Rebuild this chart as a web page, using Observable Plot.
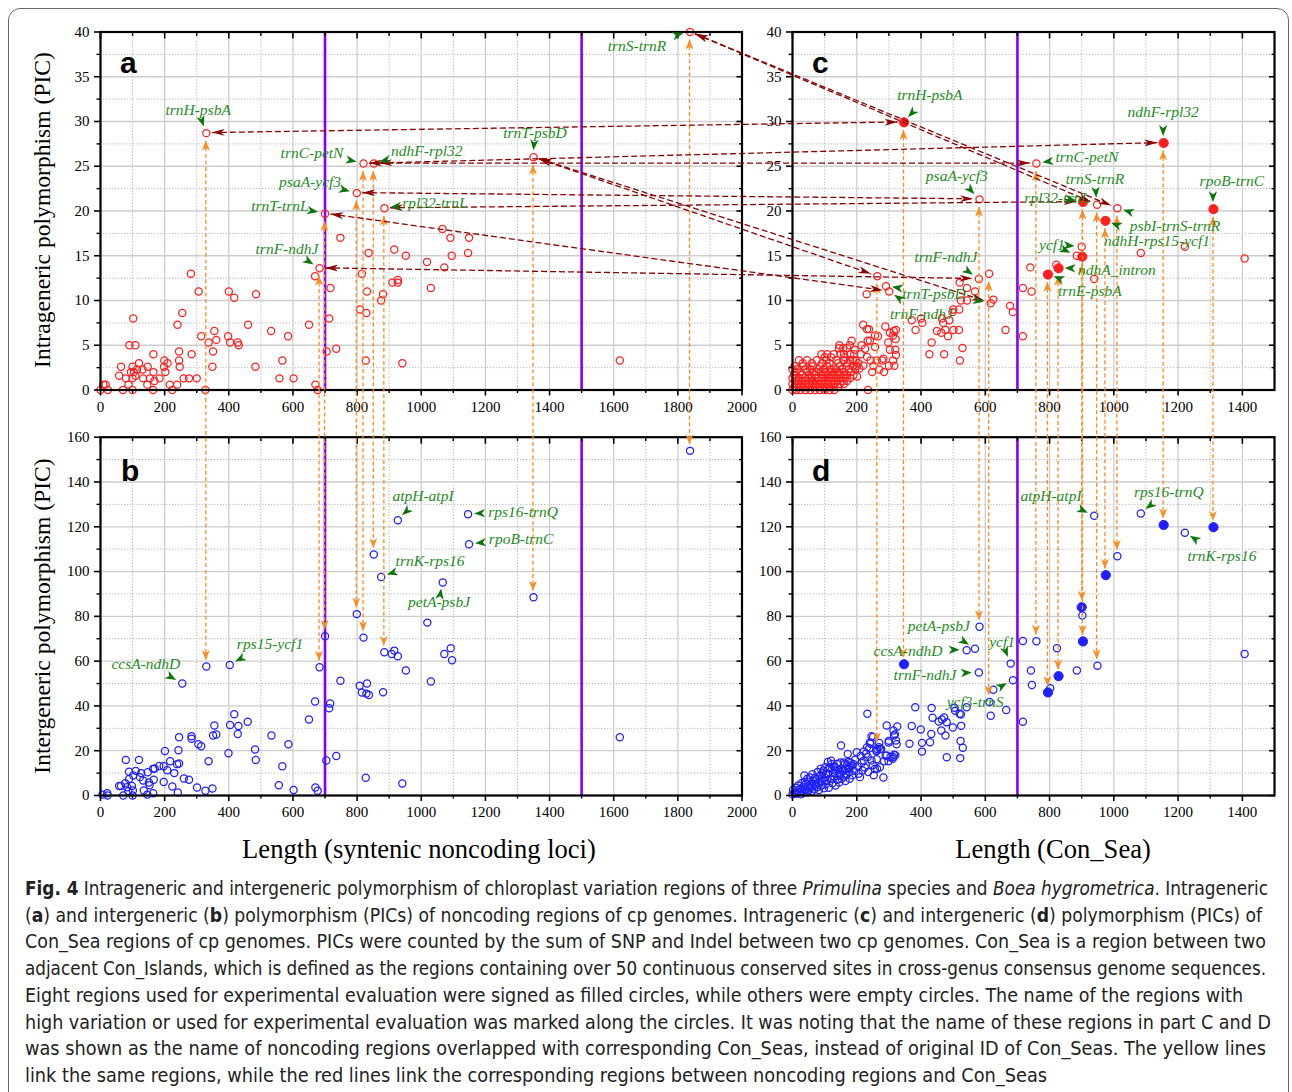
<!DOCTYPE html>
<html><head><meta charset="utf-8">
<script src="https://cdn.jsdelivr.net/npm/d3@7"></script>
<script src="https://cdn.jsdelivr.net/npm/@observablehq/plot@0.6"></script>
<style>
html,body{margin:0;padding:0;background:#fff;overflow:hidden;}
#fig{position:relative;width:1292px;height:1092px;overflow:hidden;background:#fff;}
#fig > svg{position:absolute;left:0;top:0;}
.border{position:absolute;left:8px;top:8px;width:1281px;height:1120px;border:1.3px solid #6a6a6a;border-radius:12px;box-sizing:border-box;}
.cap{position:absolute;left:25px;white-space:nowrap;font-family:"Liberation Sans Narrow","DejaVu Sans Condensed","Roboto Condensed","Liberation Sans",sans-serif;font-size:19px;color:#222;transform-origin:0 50%;line-height:26px;height:26px;}
</style></head>
<body><div id="fig"><div class="border"></div></div>
<script>
// ---------------- DATA ----------------
// Panel a: intrageneric PIC vs length, syntenic noncoding loci  [length, PIC]
const noncodingIntra = [[0,0],[9,0.6],[16,0.6],[23,0],[58,1.6],[64,2.6],[70,0],[79,1.3],[87,0.6],[90,5.0],[95,2.0],[100,2.6],[100,1.3],[100,0],[102,8.0],[104,2.0],[109,5.0],[109,1.6],[114,2.3],[120,3.0],[131,2.3],[133,1.3],[146,0.6],[147,2.6],[154,1.3],[164,0],[165,4.0],[165,2.0],[168,1.0],[184,1.3],[198,2.6],[199,3.3],[202,2.0],[209,3.0],[216,0.6],[224,0],[239,0.6],[240,7.3],[245,4.3],[245,3.3],[247,2.6],[255,8.6],[259,1.3],[276,1.3],[282,13.0],[284,4.0],[300,1.3],[306,11.0],[314,6.0],[327,0],[330,28.7],[337,5.3],[349,2.6],[351,4.3],[355,6.6],[361,5.6],[398,6.0],[400,11.0],[404,5.3],[417,10.3],[428,5.3],[431,5.0],[460,7.3],[483,2.6],[485,10.7],[532,6.6],[558,1.3],[567,3.3],[585,6.0],[602,1.3],[650,7.3],[669,12.7],[670,0.6],[677,0],[683,13.6],[700,19.7],[705,4.3],[713,8.0],[717,11.4],[735,4.6],[748,17.0],[799,22.0],[809,9.0],[815,13.0],[820,25.3],[827,3.3],[829,8.6],[831,11.0],[836,15.3],[852,25.3],[875,10.0],[881,10.7],[885,20.3],[910,12.0],[916,15.7],[927,12.3],[927,12.0],[941,3.0],[952,15.0],[1018,14.3],[1030,11.4],[1066,18.0],[1072,13.7],[1091,17.0],[1095,15.0],[1146,15.3],[1149,17.0],[1350,26.0],[1619,3.3],[1838,40.0]];

// Panel b: intergeneric PIC vs length, syntenic noncoding loci
const noncodingInter = [[6,0.4],[21,1.0],[22,0],[58,4.2],[64,4.2],[71,0],[77,5.5],[79,15.9],[83,3.7],[87,1.9],[89,10.6],[89,7.4],[98,4.2],[100,0],[101,2.2],[102,8.9],[110,11.0],[120,15.9],[123,8.2],[127,10.0],[133,6.7],[135,2.2],[146,0.4],[147,10.4],[151,5.8],[153,4.6],[164,11.9],[164,1.0],[166,7.0],[169,12.1],[183,13.2],[197,13.1],[197,6.0],[201,19.9],[208,11.3],[217,15.3],[224,4.0],[230,10.0],[239,14.0],[241,1.3],[243,20.2],[245,14.3],[245,26.0],[255,50.0],[260,7.6],[276,7.0],[284,26.5],[284,25.3],[301,3.6],[305,22.9],[314,22.0],[327,2.1],[330,57.6],[337,15.3],[349,3.1],[351,26.8],[355,31.3],[361,27.2],[399,18.9],[403,58.3],[404,31.5],[417,36.3],[428,27.5],[430,31.0],[459,32.9],[482,20.5],[484,15.9],[533,26.8],[556,4.6],[567,13.1],[586,22.9],[602,2.5],[650,33.9],[669,42.0],[670,3.6],[677,2.1],[683,57.3],[700,71.1],[704,15.6],[713,39.0],[716,41.1],[735,17.6],[748,51.2],[799,81.0],[808,49.0],[815,46.0],[820,70.5],[827,7.9],[829,45.5],[831,50.0],[837,44.9],[852,107.6],[875,97.6],[881,46.1],[885,64.0],[908,63.2],[916,64.7],[927,62.2],[927,122.9],[941,5.4],[952,55.8],[1019,77.2],[1030,50.9],[1067,95.1],[1072,63.2],[1092,65.8],[1096,60.4],[1146,125.6],[1149,112.2],[1350,88.5],[1619,26.0],[1838,153.9]];

// Panel c: intrageneric PIC vs Con_Sea length (dense low-length cloud listed per PIC row)
const conSeaIntraRows = [
  [0,[0,12,25,40,55,70,85,100,115,130]],
  [0.33,[6,20,34,48,62,72,86,100,115,128,142]],
  [0.67,[0,14,26,40,52,64,76,90,104,118,132,148,160]],
  [1.0,[8,18,30,42,55,68,82,96,110,125,140,156,170]],
  [1.33,[0,12,22,38,50,60,78,92,105,120,135,150,165,180]],
  [1.67,[5,30,52,70,95,110,125,140,158,170,190]],
  [2.0,[10,25,45,62,74,88,102,118,130,145,160,182]],
  [2.33,[0,15,40,55,80,96,120,135,155,175,195]],
  [2.67,[7,33,64,85,108,148,168,189,200]],
  [3.0,[32,60,92,115,142,172]],
  [3.33,[20,45,75,106,137,160,179,188]],
  [3.67,[100,120,163]],
  [4.0,[90,108,128,150,160,180,192]],
  [4.67,[145,158,170]],
  [5.0,[146,178]]
];
const conSeaIntraOpen = [[184,5.5],[194,4.5],[196,3.3],[201,1.5],[205,3.0],[208,2.4],[212,4.0],[215,5.0],[220,7.3],[220,2.7],[226,4.6],[231,10.7],[232,3.7],[232,6.8],[234,5.5],[235,0],[238,6.8],[241,5.5],[243,3.3],[248,2.0],[252,2.7],[257,6.1],[257,4.8],[262,3.3],[264,12.7],[266,6.0],[270,2.3],[279,3.3],[283,3.5],[285,2.0],[289,7.1],[291,11.6],[298,5.3],[300,2.7],[301,11.0],[303,4.5],[303,6.4],[313,3.3],[313,6.1],[315,6.6],[317,2.7],[320,4.5],[321,5.7],[322,3.9],[322,6.7],[371,7.8],[383,6.7],[400,8.0],[404,7.5],[426,4.0],[433,5.3],[449,6.6],[463,6.4],[465,8.0],[469,7.5],[472,4.0],[476,6.7],[484,6.0],[488,7.8],[498,8.7],[500,9.0],[501,6.7],[518,6.7],[519,9.0],[520,12.0],[521,3.3],[524,10.0],[529,4.7],[543,11.4],[543,10.0],[568,11.0],[580,12.4],[582,21.3],[612,13.0],[617,9.7],[625,10.1],[663,6.7],[677,9.4],[686,8.7],[717,6.0],[717,11.4],[740,13.7],[744,11.0],[759,25.3],[821,14.0],[885,15.0],[900,16.0],[939,12.4],[948,20.7],[1011,20.3],[1084,15.3],[1221,16.0],[1407,14.7]];
const conSeaIntraFilled = [[347,29.9],[795,12.9],[828,13.6],[902,14.9],[904,21.0],[974,18.9],[1155,27.6],[1310,20.2]];

// Panel d: intergeneric PIC vs Con_Sea length
const conSeaInterOpen = [[0,0.5],[2,2.5],[6,1.2],[10,3.5],[12,0.8],[15,2.2],[18,4.5],[20,1.5],[24,3.0],[26,0.5],[28,5.5],[30,2.0],[33,3.7],[35,1.2],[37,8.9],[38,6.0],[40,2.8],[42,5.2],[45,1.5],[46,7.5],[48,4.0],[50,2.2],[52,6.2],[54,8.0],[56,3.2],[59,4.0],[60,1.8],[62,9.5],[64,6.5],[66,5.2],[68,2.8],[70,7.8],[72,4.5],[75,7.4],[77,3.7],[78,10.5],[80,5.8],[82,2.5],[84,8.5],[87,8.9],[88,12.0],[90,4.5],[92,6.5],[94,10.2],[96,11.2],[98,3.2],[100,8.0],[101,6.7],[102,12.6],[104,5.0],[106,9.5],[108,6.7],[110,15.0],[111,9.7],[113,3.5],[115,12.5],[116,11.9],[118,7.5],[120,15.5],[122,14.1],[122,7.4],[124,5.5],[126,10.0],[128,13.0],[130,8.5],[132,12.6],[134,4.5],[136,10.8],[139,14.1],[140,7.0],[142,11.5],[145,5.8],[146,9.0],[148,9.7],[149,14.7],[150,12.0],[151,22.3],[153,7.5],[155,11.0],[158,10.9],[160,14.8],[161,8.5],[163,14.1],[165,6.5],[166,11.8],[168,9.4],[170,13.5],[172,18.5],[174,15.0],[175,11.9],[177,10.4],[178,7.5],[179,12.6],[181,14.5],[184,13.4],[186,9.0],[189,14.1],[192,11.0],[195,16.0],[200,19.3],[203,13.0],[206,9.7],[210,8.2],[212,17.6],[215,14.5],[218,11.2],[222,19.7],[222,15.6],[225,12.5],[229,18.6],[232,21.6],[233,36.5],[234,17.2],[236,10.5],[239,21.1],[241,23.7],[243,23.1],[246,15.6],[246,26.5],[250,13.5],[251,26.1],[253,9.0],[256,11.8],[261,19.8],[262,16.2],[262,20.1],[263,11.9],[264,20.8],[269,21.6],[270,23.4],[272,12.6],[273,20.8],[276,20.8],[283,8.0],[285,15.3],[290,17.8],[293,31.3],[293,17.9],[299,23.7],[299,15.3],[300,24.4],[305,17.2],[312,16.4],[313,17.2],[314,29.0],[316,26.8],[316,18.2],[319,27.3],[320,18.0],[322,24.6],[324,22.9],[326,30.8],[364,23.1],[371,31.0],[382,39.4],[399,29.5],[403,23.5],[403,19.6],[428,23.8],[432,27.5],[433,39.1],[436,34.7],[455,33.0],[463,29.0],[465,33.9],[472,34.8],[476,26.8],[480,32.7],[480,17.1],[499,30.4],[504,39.2],[506,37.8],[520,36.5],[522,16.7],[523,24.3],[524,36.2],[525,31.1],[530,21.3],[542,39.4],[542,64.9],[568,65.5],[580,54.9],[582,75.4],[613,41.8],[617,35.6],[625,47.2],[665,38.2],[679,58.9],[686,51.5],[717,32.9],[717,69.0],[742,55.8],[745,49.3],[759,68.9],[802,47.9],[823,65.8],[885,55.8],[902,80.4],[939,124.9],[949,57.9],[1011,106.8],[1084,125.9],[1221,117.3],[1407,63.2]];
const conSeaInterFilled = [[347,58.6],[795,46.0],[828,53.3],[900,84.1],[904,68.8],[975,98.4],[1155,120.8],[1310,119.8]];

// Links: same region a<->b and c<->d : [length, PIC upper panel, PIC lower panel]
const sameRegionAB = [[330,28.7,57.6],[683,13.6,57.3],[700,19.7,71.1],[799,22.0,81.0],[820,25.3,70.5],[852,25.3,107.6],[885,20.3,64.0],[1350,26.0,88.5],[1838,40.0,153.9]];
const sameRegionCD = [[264,12.7,20.8],[347,29.9,58.6],[582,21.3,75.4],[612,13.0,41.8],[759,25.3,68.9],[795,12.9,46.0],[828,13.6,53.3],[902,14.9,84.1],[904,21.0,68.8],[948,20.7,57.9],[974,18.9,98.4],[1011,20.3,106.8],[1155,27.6,120.8],[1310,20.2,119.8]];
// Links noncoding (a) <-> Con_Sea (c): [[len a, PIC a],[len c, PIC c]]
const correspondAC = [[[330,28.7],[347,29.9]],[[1838,40.0],[948,20.7]],[[1838,40.0],[1011,20.3]],[[820,25.3],[759,25.3]],[[852,25.3],[1155,27.6]],[[1350,26.0],[264,12.7]],[[1350,26.0],[617,9.7]],[[799,22.0],[582,21.3]],[[885,20.3],[904,21.0]],[[700,19.7],[301,11.0]],[[683,13.6],[580,12.4]]];

// Region names and the points they mark
const namesA = [["trnH-psbA",[[330,28.7]]],["trnC-petN",[[820,25.3]]],["ndhF-rpl32",[[852,25.3]]],["psaA-ycf3",[[799,22.0]]],["rpl32-trnL",[[885,20.3]]],["trnT-trnL",[[700,19.7]]],["trnF-ndhJ",[[683,13.6]]],["trnT-psbD",[[1350,26.0]]],["trnS-trnR",[[1838,40.0]]]];
const namesB = [["ccsA-ndhD",[[255,50.0]]],["rps15-ycf1",[[403,58.3]]],["atpH-atpI",[[927,122.9]]],["rps16-trnQ",[[1146,125.6]]],["rpoB-trnC",[[1149,112.2]]],["trnK-rps16",[[875,97.6]]],["petA-psbJ",[[1067,95.1]]]];
const namesC = [["trnH-psbA",[[347,29.9]]],["ndhF-rpl32",[[1155,27.6]]],["trnC-petN",[[759,25.3]]],["psaA-ycf3",[[582,21.3]]],["rpl32-trnL",[[904,21.0]]],["trnS-trnR",[[948,20.7]]],["rpoB-trnC",[[1310,20.2]]],["psbI-trnS-trnR",[[1011,20.3]]],["ndhH-rps15-ycf1",[[974,18.9]]],["ycf1",[[885,15.0],[900,16.0]]],["ndhA_intron",[[828,13.6]]],["trnE-psbA",[[795,12.9]]],["trnF-ndhJ",[[580,12.4]]],["trnT-psbD",[[291,11.6],[617,9.7]]],["trnF-ndhJ ",[[301,11.0]]]];
const namesD = [["atpH-atpI",[[939,124.9]]],["rps16-trnQ",[[1084,125.9]]],["trnK-rps16",[[1221,117.3]]],["petA-psbJ",[[568,65.5]]],["ccsA-ndhD",[[542,64.9]]],["ycf1",[[679,58.9]]],["trnF-ndhJ",[[580,54.9]]],["ycf3-trnS",[[686,51.5]]]];

// Tick values
const ticksLenNoncoding = [0,200,400,600,800,1000,1200,1400,1600,1800,2000];
const minorLenNoncoding = [100,300,500,700,900,1100,1300,1500,1700,1900];
const ticksLenConSea = [0,200,400,600,800,1000,1200,1400];
const minorLenConSea = [100,300,500,700,900,1100,1300];
const ticksIntra = [0,5,10,15,20,25,30,35,40];
const minorIntra = [2.5,7.5,12.5,17.5,22.5,27.5,32.5,37.5];
const ticksInter = [0,20,40,60,80,100,120,140,160];
const minorInter = [10,30,50,70,90,110,130,150];
const cutsNoncoding = [700,1500];
const cutsConSea = [700];

// ---------------- LAYOUT / STYLE ----------------
const W = 1292, H = 870;
const RED = "#ff1f1f", BLUE = "#1f1fff", PURPLE = "#8000ff";
const ORANGE = "#ff8a1e", DARKRED = "#8b0000", GREEN = "#1f8c1f", GREEN2 = "#0c760c";
const SERIF = "'Liberation Serif','Times New Roman',serif";
const fig = document.getElementById("fig");

function panel(o) {
  const xy = {x: d => d[0], y: d => d[1]};
  const blank = () => "";
  const plot = Plot.plot({
    width: W, height: H,
    marginLeft: o.left, marginRight: W - o.right, marginTop: o.top, marginBottom: H - o.bottom,
    style: {background: "transparent", overflow: "visible", fontFamily: SERIF, fontSize: "15px", color: "#000"},
    x: {domain: o.xDomain}, y: {domain: o.yDomain},
    marks: [
      Plot.gridX(o.xMinor, {stroke: "#b8b8b8", strokeOpacity: 1, strokeDasharray: "1.3,1.7"}),
      Plot.gridY(o.yMinor, {stroke: "#b8b8b8", strokeOpacity: 1, strokeDasharray: "1.3,1.7"}),
      Plot.gridX(o.xMajor, {stroke: "#cdcdcd", strokeOpacity: 1, strokeWidth: 1.3}),
      Plot.gridY(o.yMajor, {stroke: "#cdcdcd", strokeOpacity: 1, strokeWidth: 1.3}),
      Plot.ruleX(o.cuts, {stroke: PURPLE, strokeWidth: 2.6}),
      Plot.dot(o.open, {...xy, r: 3.6, stroke: o.color, strokeWidth: 1.25, fill: "none"}),
      Plot.dot(o.filled, {...xy, r: 4.6, fill: o.color, stroke: o.color, strokeWidth: 1}),
      Plot.frame({stroke: "#000", strokeWidth: 2.2}),
      Plot.axisX(o.xMajor, {anchor: "bottom", tickSize: 6, tickPadding: 5, strokeWidth: 1.6, tickFormat: d => String(d), fontSize: 15, label: null}),
      Plot.axisX(o.xMinor, {anchor: "bottom", tickSize: 3.5, strokeWidth: 1.4, tickFormat: blank, label: null}),
      Plot.axisX(o.xMajor, {anchor: "top", tickSize: 6, dy: 6, strokeWidth: 1.6, tickFormat: blank, label: null}),
      Plot.axisX(o.xMinor, {anchor: "top", tickSize: 3.5, dy: 3.5, strokeWidth: 1.4, tickFormat: blank, label: null}),
      Plot.axisY(o.yMajor, {anchor: "left", tickSize: 6, tickPadding: 5, strokeWidth: 1.6, tickFormat: d => String(d), fontSize: 15, label: null}),
      Plot.axisY(o.yMinor, {anchor: "left", tickSize: 3.5, strokeWidth: 1.4, tickFormat: blank, label: null}),
      Plot.axisY(o.yMajor, {anchor: "right", tickSize: 6, dx: -6, strokeWidth: 1.6, tickFormat: blank, label: null}),
      Plot.axisY(o.yMinor, {anchor: "right", tickSize: 3.5, dx: -3.5, strokeWidth: 1.4, tickFormat: blank, label: null})
    ]
  });
  fig.appendChild(plot);
  return plot;
}

const cloudC = conSeaIntraRows.flatMap(([y, xs]) => xs.map(x => [x, y]));

const pa = panel({left: 100, right: 741.5, top: 31.5, bottom: 389.5, xDomain: [0, 2000], yDomain: [0, 40],
  xMajor: ticksLenNoncoding, xMinor: minorLenNoncoding, yMajor: ticksIntra, yMinor: minorIntra,
  cuts: cutsNoncoding, open: noncodingIntra, filled: [], color: RED});
const pb = panel({left: 100, right: 741.5, top: 436.7, bottom: 795, xDomain: [0, 2000], yDomain: [0, 160],
  xMajor: ticksLenNoncoding, xMinor: minorLenNoncoding, yMajor: ticksInter, yMinor: minorInter,
  cuts: cutsNoncoding, open: noncodingInter, filled: [], color: BLUE});
const pc = panel({left: 792, right: 1274, top: 31.5, bottom: 389.5, xDomain: [0, 1500], yDomain: [0, 40],
  xMajor: ticksLenConSea, xMinor: minorLenConSea, yMajor: ticksIntra, yMinor: minorIntra,
  cuts: cutsConSea, open: cloudC.concat(conSeaIntraOpen), filled: conSeaIntraFilled, color: RED});
const pd = panel({left: 792, right: 1274, top: 436.7, bottom: 795, xDomain: [0, 1500], yDomain: [0, 160],
  xMajor: ticksLenConSea, xMinor: minorLenConSea, yMajor: ticksInter, yMinor: minorInter,
  cuts: cutsConSea, open: conSeaInterOpen, filled: conSeaInterFilled, color: BLUE});

// ---------------- OVERLAY (cross-panel links, names, titles) ----------------
const pos = (p, x, y) => [p.scale("x").apply(x), p.scale("y").apply(y)];
const svg = d3.select(fig).append("svg").attr("width", W).attr("height", H).style("overflow", "visible");
const defs = svg.append("defs");
function marker(id, color, len, wid) {
  defs.append("marker").attr("id", id).attr("viewBox", `0 0 ${len} ${wid}`)
    .attr("refX", len).attr("refY", wid / 2).attr("markerWidth", len).attr("markerHeight", wid)
    .attr("markerUnits", "userSpaceOnUse").attr("orient", "auto-start-reverse")
    .append("path").attr("d", `M0,0L${len},${wid / 2}L0,${wid}L${len * 0.3},${wid / 2}Z`).attr("fill", color);
}
marker("mo", ORANGE, 10, 8);
marker("mr", DARKRED, 13, 7);

function link(p1, p2, g1, g2, color, mk, dash) {
  const dx = p2[0] - p1[0], dy = p2[1] - p1[1], L = Math.hypot(dx, dy), ux = dx / L, uy = dy / L;
  svg.append("line")
    .attr("x1", p1[0] + ux * g1).attr("y1", p1[1] + uy * g1)
    .attr("x2", p2[0] - ux * g2).attr("y2", p2[1] - uy * g2)
    .attr("stroke", color).attr("stroke-width", 1.3).attr("stroke-dasharray", dash)
    .attr("marker-start", `url(#${mk})`).attr("marker-end", `url(#${mk})`);
}
for (const [x, y1, y2] of sameRegionAB) link(pos(pa, x, y1), pos(pb, x, y2), 8, 6, ORANGE, "mo", "4,2.6");
for (const [x, y1, y2] of sameRegionCD) link(pos(pc, x, y1), pos(pd, x, y2), 8, 6, ORANGE, "mo", "4,2.6");
for (const [a, c] of correspondAC) link(pos(pa, a[0], a[1]), pos(pc, c[0], c[1]), 6, 6, DARKRED, "mr", "6,3");

// label placement (data units of each panel) — layout only
const placeA = {"trnH-psbA":[306,31.3],"trnC-petN":[661,26.5],"ndhF-rpl32":[1019,26.7],"psaA-ycf3":[655,23.2],"rpl32-trnL":[1044,20.9],"trnT-trnL":[561,20.6],"trnF-ndhJ":[583,15.8],"trnT-psbD":[1356,28.7],"trnS-trnR":[1674,38.4]};
const placeB = {"ccsA-ndhD":[143,58.9],"rps15-ycf1":[530,67.4],"atpH-atpI":[1007,133.5],"rps16-trnQ":[1319,126.4],"rpoB-trnC":[1313,114.3],"trnK-rps16":[1029,104.5],"petA-psbJ":[1057,86.2]};
const placeC = {"trnH-psbA":[429,33.0],"ndhF-rpl32":[1155,31.0],"trnC-petN":[918,26.0],"psaA-ycf3":[513,23.9],"rpl32-trnL":[825,21.5],"trnS-trnR":[943,23.6],"rpoB-trnC":[1369,23.3,1310,23.6],"psbI-trnS-trnR":[1192,18.3],"ndhH-rps15-ycf1":[1136,16.6],"ycf1":[809,16.2],"ndhA_intron":[1011,13.4],"trnE-psbA":[927,11.1],"trnF-ndhJ":[479,14.9],"trnT-psbD":[442,10.7],"trnF-ndhJ ":[403,8.5]};
const placeD = {"atpH-atpI":[806,133.5],"rps16-trnQ":[1173,135.7],"trnK-rps16":[1338,106.7],"petA-psbJ":[457,75.5],"ccsA-ndhD":[361,64.7],"ycf1":[654,68.3],"trnF-ndhJ":[414,53.6],"ycf3-trnS":[570,41.5]};

function names(p, list, place) {
  for (const [name, targets] of list) {
    const pl = place[name];
    const [tx, ty] = pos(p, pl[0], pl[1]);
    svg.append("text").attr("x", tx).attr("y", ty).attr("text-anchor", "middle").attr("dy", "0.35em")
      .attr("font-family", SERIF).attr("font-style", "italic").attr("font-size", 15.5).attr("fill", GREEN).text(name.trim());
    const [fx, fy] = pl.length > 2 ? pos(p, pl[2], pl[3]) : [tx, ty];
    for (const [x, y] of targets) {
      const [px, py] = pos(p, x, y);
      const dx = px - fx, dy = py - fy, L = Math.hypot(dx, dy), ux = dx / L, uy = dy / L, nx = -uy, ny = ux;
      const tipx = px - ux * 6.5, tipy = py - uy * 6.5, len = 11, hw = 4.2;
      const bx = tipx - ux * len, by = tipy - uy * len, mx = tipx - ux * len * 0.72, my = tipy - uy * len * 0.72;
      svg.append("path").attr("fill", GREEN2)
        .attr("d", `M${tipx},${tipy}L${bx + nx * hw},${by + ny * hw}L${mx},${my}L${bx - nx * hw},${by - ny * hw}Z`);
    }
  }
}
names(pa, namesA, placeA);
names(pb, namesB, placeB);
names(pc, namesC, placeC);
names(pd, namesD, placeD);

// panel letters
for (const [t, x, y] of [["a", 120, 73], ["b", 121, 481], ["c", 812, 73], ["d", 812, 481]])
  svg.append("text").attr("x", x).attr("y", y).attr("font-family", "'Liberation Sans',Arial,sans-serif")
    .attr("font-weight", "bold").attr("font-size", 30).text(t);

// axis titles
for (const [t, y] of [["Intrageneric polymorphism (PIC)", 210], ["Intergeneric polymorphism (PIC)", 616]])
  svg.append("text").attr("transform", `translate(50,${y}) rotate(-90)`).attr("text-anchor", "middle")
    .attr("font-family", SERIF).attr("font-size", 23.6).text(t);
for (const [t, x] of [["Length (syntenic noncoding loci)", 419], ["Length (Con_Sea)", 1053]])
  svg.append("text").attr("x", x).attr("y", 858).attr("text-anchor", "middle")
    .attr("font-family", SERIF).attr("font-size", 26.6).text(t);

// ---------------- CAPTION ----------------
const captionLines = [
  ["<b>Fig. 4</b> Intrageneric and intergeneric polymorphism of chloroplast variation regions of three <i>Primulina</i> species and <i>Boea hygrometrica</i>. Intrageneric", 1268],
  ["(<b>a</b>) and intergeneric (<b>b</b>) polymorphism (PICs) of noncoding regions of cp genomes. Intrageneric (<b>c</b>) and intergeneric (<b>d</b>) polymorphism (PICs) of", 1262],
  ["Con_Sea regions of cp genomes. PICs were counted by the sum of SNP and Indel between two cp genomes. Con_Sea is a region between two", 1266],
  ["adjacent Con_Islands, which is defined as the regions containing over 50 continuous conserved sites in cross-genus consensus genome sequences.", 1266],
  ["Eight regions used for experimental evaluation were signed as filled circles, while others were empty circles. The name of the regions with", 1243],
  ["high variation or used for experimental evaluation was marked along the circles. It was noting that the name of these regions in part C and D", 1271],
  ["was shown as the name of noncoding regions overlapped with corresponding Con_Seas, instead of original ID of Con_Seas. The yellow lines", 1266],
  ["link the same regions, while the red lines link the corresponding regions between noncoding regions and Con_Seas", 1047]
];
const capEls = captionLines.map(([html, right], i) => {
  const d = document.createElement("div");
  d.className = "cap";
  d.style.top = (875 + i * 26.7) + "px";
  d.innerHTML = html;
  d.dataset.right = right;
  fig.appendChild(d);
  return d;
});
function fitCaption() {
  for (const d of capEls) {
    d.style.transform = "none";
    const w = d.getBoundingClientRect().width;
    d.style.transform = `scaleX(${(+d.dataset.right - 25) / w})`;
  }
}
fitCaption();
if (document.fonts && document.fonts.ready) document.fonts.ready.then(fitCaption);
</script>
</body></html>
